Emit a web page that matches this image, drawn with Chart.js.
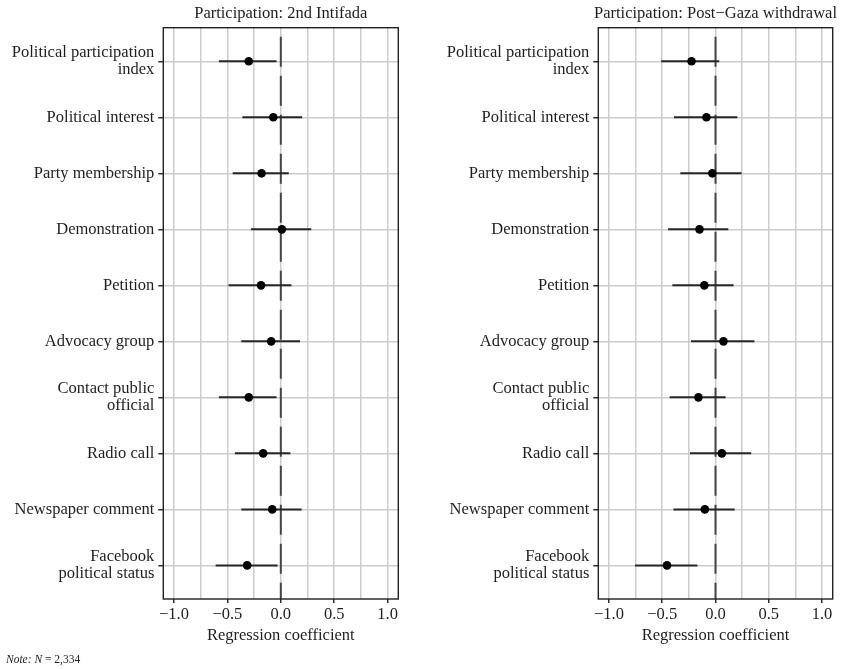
<!DOCTYPE html>
<html><head><meta charset="utf-8">
<script src="https://cdn.jsdelivr.net/npm/chart.js@4/dist/chart.umd.min.js"></script>
<style>
html,body{margin:0;padding:0;background:#fff;width:842px;height:669px;overflow:hidden;position:relative}
.wrap{position:absolute;top:0;height:669px}
#w1{left:0;width:420px}
#w2{left:420px;width:422px}
#note{position:absolute;left:6px;top:653px;font:11.5px 'Liberation Serif',serif;color:#222;white-space:nowrap}
</style></head><body>
<div class="wrap" id="w1"><canvas id="c1" width="420" height="669"></canvas></div>
<div class="wrap" id="w2"><canvas id="c2" width="422" height="669"></canvas></div>
<div id="note"><i>Note: N</i> = 2,334</div>
<script>
// ---- data ----
const categories = [
  ["Political participation", "index"],
  "Political interest",
  "Party membership",
  "Demonstration",
  "Petition",
  "Advocacy group",
  ["Contact public", "official"],
  "Radio call",
  "Newspaper comment",
  ["Facebook", "political status"]
];
const intifadaEst  = [-0.30, -0.07, -0.18, 0.01, -0.185, -0.09, -0.30, -0.165, -0.08, -0.315];
const intifadaLow  = [-0.58, -0.36, -0.45, -0.28, -0.49, -0.37, -0.58, -0.43, -0.37, -0.61];
const intifadaHigh = [-0.04, 0.20, 0.075, 0.285, 0.10, 0.18, -0.04, 0.09, 0.195, -0.03];
const gazaEst  = [-0.225, -0.085, -0.03, -0.15, -0.105, 0.075, -0.16, 0.06, -0.10, -0.455];
const gazaLow  = [-0.51, -0.39, -0.33, -0.445, -0.405, -0.23, -0.43, -0.24, -0.395, -0.755];
const gazaHigh = [0.035, 0.205, 0.245, 0.12, 0.17, 0.365, 0.095, 0.335, 0.18, -0.17];
const xTickValues = [-1, -0.75, -0.5, -0.25, 0, 0.25, 0.5, 0.75, 1];
const xLabelValues = [-1, -0.5, 0, 0.5, 1];
const panelTitles = ["Participation: 2nd Intifada", "Participation: Post\u2212Gaza withdrawal"];
const xTitle = "Regression coefficient";

const FONT = "'Liberation Serif', 'Times New Roman', serif";
const TXT = '#1e1e1e';

const framePlugin = {
  id: 'frame',
  afterDraw(chart, args, opts) {
    const {ctx, chartArea: a} = chart;
    ctx.save();
    ctx.strokeStyle = '#222';
    ctx.lineWidth = 1.4;
    ctx.strokeRect(a.left, a.top, a.right - a.left, a.bottom - a.top);
    ctx.fillStyle = TXT;
    ctx.font = "16.5px " + FONT;
    ctx.textAlign = 'center';
    ctx.textBaseline = 'alphabetic';
    ctx.fillText(opts.text, (a.left + a.right) / 2, 17.5);
    ctx.restore();
  }
};

function fmt(v) {
  const s = Math.abs(v).toFixed(1);
  return v < -1e-9 ? '\u2212' + s : s;
}
function isLabel(v) { return xLabelValues.some(l => Math.abs(l - v) < 1e-9); }

function makePanel(canvasId, title, est, low, high, yWidth, padRight) {
  const rows = categories.map((c, i) => i + 1);
  const pts = est.map((v, i) => ({x: v, y: rows[i]}));
  const bars = [];
  low.forEach((l, i) => {
    bars.push({x: l, y: rows[i]});
    bars.push({x: high[i], y: rows[i]});
    bars.push({x: NaN, y: NaN});
  });
  new Chart(document.getElementById(canvasId), {
    type: 'line',
    data: {
      datasets: [
        {data: pts, showLine: false, pointRadius: 4.3, pointBackgroundColor: '#000', pointBorderColor: '#000', pointBorderWidth: 0},
        {data: bars, borderColor: '#262626', borderWidth: 2, pointRadius: 0, spanGaps: false},
        {data: [{x: 0, y: 0.4}, {x: 0, y: 10.6}], borderColor: '#444', borderWidth: 2, borderDash: [30, 9], borderDashOffset: 30, pointRadius: 0}
      ]
    },
    options: {
      responsive: false,
      animation: false,
      layout: {padding: {top: 27.7, right: padRight, bottom: 0, left: 0}},
      plugins: {legend: {display: false}, tooltip: {enabled: false}, frame: {text: title}},
      scales: {
        x: {
          type: 'linear', min: -1.1, max: 1.1,
          afterBuildTicks: s => { s.ticks = xTickValues.map(v => ({value: v})); },
          afterFit: s => { s.height = 70; },
          border: {display: false},
          grid: {color: '#cccccc', lineWidth: 1.5, tickLength: 4,
                 tickColor: c => (c.tick && isLabel(c.tick.value)) ? '#222' : 'rgba(0,0,0,0)', tickWidth: 1.4},
          ticks: {autoSkip: false, maxRotation: 0, padding: 2, color: TXT,
                  font: {family: FONT, size: 16.5},
                  callback: v => isLabel(v) ? fmt(v) : ''},
          title: {display: true, text: xTitle, color: TXT, font: {family: FONT, size: 16.5},
                  padding: {top: 0, bottom: 23}}
        },
        y: {
          type: 'linear', min: 0.4, max: 10.6, reverse: true,
          afterBuildTicks: s => { s.ticks = rows.map(v => ({value: v})); },
          afterFit: s => { s.width = yWidth; },
          border: {display: false},
          grid: {color: '#cccccc', lineWidth: 1.5, tickLength: 5, tickColor: '#222', tickWidth: 1.4},
          ticks: {autoSkip: false, padding: 4, color: TXT,
                  font: {family: FONT, size: 16.5, lineHeight: 1.0},
                  callback: v => categories[Math.round(v) - 1]}
        }
      }
    },
    plugins: [framePlugin]
  });
}

makePanel('c1', panelTitles[0], intifadaEst, intifadaLow, intifadaHigh, 163.3, 420 - 398.3);
makePanel('c2', panelTitles[1], gazaEst, gazaLow, gazaHigh, 598.3 - 420, 842 - 832.7);
</script>
</body></html>
